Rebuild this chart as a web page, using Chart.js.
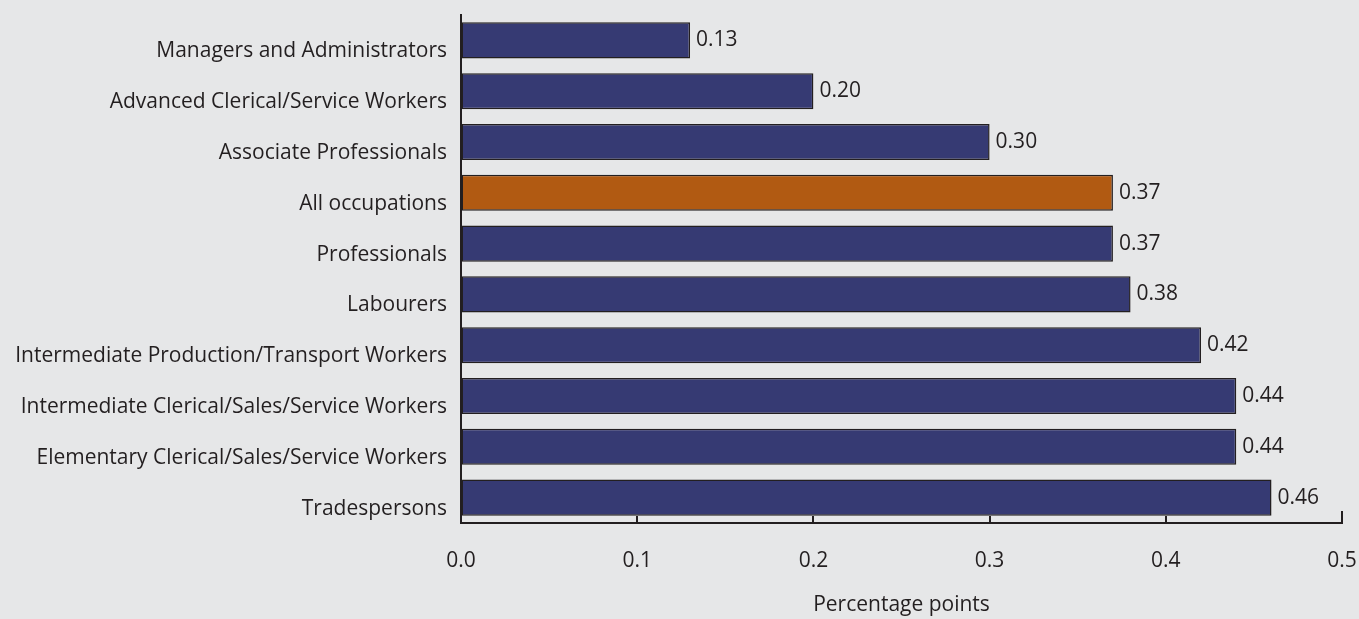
<!DOCTYPE html>
<html>
<head>
<meta charset="utf-8">
<script src="https://cdn.jsdelivr.net/npm/chart.js@4/dist/chart.umd.min.js"></script>
<style>
	html, body { margin: 0; padding: 0; background: #e6e7e8; }
	#wrap { width: 1359px; height: 619px; }
</style>
</head>
<body>
<div id="wrap"><canvas id="occ-chart"></canvas></div>
<script>
	var occupations = [
		'Managers and Administrators',
		'Advanced Clerical/Service Workers',
		'Associate Professionals',
		'All occupations',
		'Professionals',
		'Labourers',
		'Intermediate Production/Transport Workers',
		'Intermediate Clerical/Sales/Service Workers',
		'Elementary Clerical/Sales/Service Workers',
		'Tradespersons'
	];
	var points = [0.13, 0.20, 0.30, 0.37, 0.37, 0.38, 0.42, 0.44, 0.44, 0.46];
	var xTicks = [0.0, 0.1, 0.2, 0.3, 0.4, 0.5];

	var navy = '#363a73';
	var orange = '#b15a12';
	var ink = '#231f20';
	var fontFamily = '"Open Sans", "Liberation Sans", sans-serif';

	// value labels at the end of each bar
	const valueLabels = {
		id: 'valueLabels',
		afterDatasetsDraw: (chart) => {
			var ctx = chart.ctx;
			var meta = chart.getDatasetMeta(0);
			ctx.save();
			ctx.font = '21px ' + fontFamily;
			ctx.fillStyle = ink;
			ctx.textAlign = 'left';
			ctx.textBaseline = 'middle';
			meta.data.forEach(function (bar, i) {
				ctx.fillText(points[i].toFixed(2), bar.x + 6, bar.y);
			});
			ctx.restore();
		}
	};

	// small tick marks pointing up from the x axis
	const innerTicks = {
		id: 'innerTicks',
		afterDraw: (chart) => {
			var ctx = chart.ctx;
			var xs = chart.scales.x;
			var bottom = chart.chartArea.bottom;
			ctx.save();
			ctx.strokeStyle = ink;
			ctx.lineWidth = 2;
			xTicks.forEach(function (v, i) {
				if (v === 0) return;
				var px = Math.round(xs.getPixelForValue(v));
				var len = (i === xTicks.length - 1) ? 12 : 7;
				ctx.beginPath();
				ctx.moveTo(px, bottom);
				ctx.lineTo(px, bottom - len);
				ctx.stroke();
			});
			ctx.restore();
		}
	};

	var ctx = document.getElementById('occ-chart').getContext('2d');
	var data = {
		labels: occupations,
		datasets: [{
			data: points,
			backgroundColor: occupations.map(function (o) { return o === 'All occupations' ? orange : navy; }),
			borderColor: ink,
			borderWidth: 1.5,
			borderSkipped: false,
			categoryPercentage: 1.0,
			barPercentage: 0.71
		}]
	};
	var config = {
		type: 'bar',
		data: data,
		options: {
			indexAxis: 'y',
			responsive: true,
			maintainAspectRatio: false,
			animation: false,
			layout: { padding: { top: 15, right: 0, bottom: 0, left: 0 } },
			plugins: {
				legend: { display: false },
				tooltip: { enabled: false }
			},
			scales: {
				x: {
					min: 0,
					max: 0.5,
					afterBuildTicks: function (scale) {
						scale.ticks = xTicks.map(function (v) { return { value: v }; });
					},
					afterFit: function (scale) {
						scale.height = 96;
						scale.paddingLeft = 0;
						scale.paddingRight = 17;
					},
					grid: { display: true, drawOnChartArea: false, drawTicks: false },
					border: { display: true, color: ink, width: 2 },
					ticks: {
						padding: 25,
						color: ink,
						font: { family: fontFamily, size: 21 },
						maxRotation: 0,
						callback: function (v) { return Number(v).toFixed(1); }
					},
					title: {
						display: true,
						text: 'Percentage points',
						color: ink,
						font: { family: fontFamily, size: 21 },
						padding: { top: 0, bottom: 1 }
					}
				},
				y: {
					afterFit: function (scale) {
						scale.width = 461;
						scale.paddingTop = 0;
						scale.paddingBottom = 0;
					},
					grid: { display: true, drawOnChartArea: false, drawTicks: false },
					border: { display: true, color: ink, width: 2 },
					ticks: {
						padding: 14,
						labelOffset: 11,
						color: ink,
						font: { family: fontFamily, size: 21 }
					}
				}
			}
		},
		plugins: [valueLabels, innerTicks]
	};
	var myChart = new Chart(ctx, config);
</script>
</body>
</html>
